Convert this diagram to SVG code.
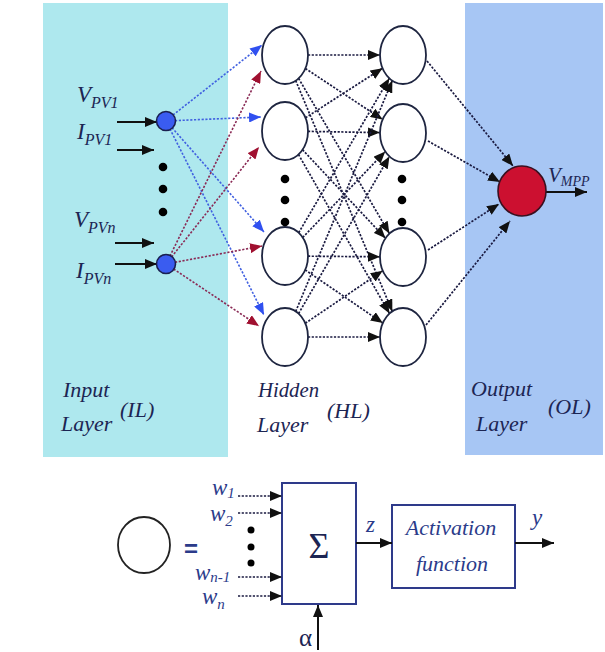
<svg xmlns="http://www.w3.org/2000/svg" width="605" height="652" viewBox="0 0 605 652">
<style>
.lbl{font-family:"Liberation Serif","Times New Roman",serif;font-style:italic;fill:#1c2553}
.wl{font-family:"Liberation Serif","Times New Roman",serif;font-style:italic;fill:#2b3b8a}
.hn{fill:#fff;stroke:#1e2540;stroke-width:1.8}
.dk{stroke:#1a1a40;stroke-width:1.7;stroke-dasharray:2.2 1.5;fill:none}
.bl{stroke:#4060e0;stroke-width:1.6;stroke-dasharray:2.2 1.6;fill:none}
.rd{stroke:#8a2a55;stroke-width:1.6;stroke-dasharray:2.2 1.6;fill:none}
.sol{stroke:#111;stroke-width:2;fill:none}
.box{fill:#fff;stroke:#2e3a8a;stroke-width:2}
.dot{fill:#000}
</style>
<defs>
<marker id="ak" markerUnits="userSpaceOnUse" markerWidth="12" markerHeight="10" refX="12" refY="5" orient="auto"><path d="M0,0 L12,5 L0,10 z" fill="#111"/></marker>
<marker id="ab" markerUnits="userSpaceOnUse" markerWidth="12" markerHeight="10" refX="12" refY="5" orient="auto"><path d="M0,0 L12,5 L0,10 z" fill="#3050f0"/></marker>
<marker id="ar" markerUnits="userSpaceOnUse" markerWidth="12" markerHeight="10" refX="12" refY="5" orient="auto"><path d="M0,0 L12,5 L0,10 z" fill="#a01030"/></marker>
</defs>
<rect width="605" height="652" fill="#fff"/>
<rect id="il-panel" x="43" y="3" width="185" height="454" fill="#aee8ee"/>
<rect id="ol-panel" x="465" y="3" width="138" height="452" fill="#a7c6f4"/>

<g id="connectors">
<line class="sol" x1="117" y1="122" x2="157" y2="122" marker-end="url(#ak)"/>
<line class="sol" x1="117" y1="150" x2="154" y2="150" marker-end="url(#ak)"/>
<line class="sol" x1="115" y1="243" x2="154" y2="243" marker-end="url(#ak)"/>
<line class="sol" x1="115" y1="264" x2="157" y2="264" marker-end="url(#ak)"/>
<line class="bl" x1="173" y1="115" x2="262" y2="45" marker-end="url(#ab)"/>
<line class="bl" x1="175" y1="120.6" x2="261" y2="117" marker-end="url(#ab)"/>
<line class="bl" x1="172" y1="127.7" x2="264" y2="232" marker-end="url(#ab)"/>
<line class="bl" x1="170" y1="129" x2="264" y2="315" marker-end="url(#ab)"/>
<line class="rd" x1="170" y1="256" x2="261" y2="71" marker-end="url(#ar)"/>
<line class="rd" x1="171.6" y1="257" x2="259" y2="147" marker-end="url(#ar)"/>
<line class="rd" x1="175" y1="262.3" x2="262" y2="246" marker-end="url(#ar)"/>
<line class="rd" x1="173.6" y1="269" x2="259" y2="326" marker-end="url(#ar)"/>
<line class="dk" x1="308" y1="55" x2="380" y2="55" marker-end="url(#ak)"/>
<line class="dk" x1="305.4" y1="68.5" x2="382.6" y2="119.5" marker-end="url(#ak)"/>
<line class="dk" x1="298.6" y1="78.4" x2="389.4" y2="233.6" marker-end="url(#ak)"/>
<line class="dk" x1="295.7" y1="80.6" x2="392.3" y2="311.4" marker-end="url(#ak)"/>
<line class="dk" x1="305.5" y1="117.8" x2="382.5" y2="68.2" marker-end="url(#ak)"/>
<line class="dk" x1="308" y1="131.4" x2="380" y2="132.6" marker-end="url(#ak)"/>
<line class="dk" x1="302.5" y1="149.7" x2="385.5" y2="238.3" marker-end="url(#ak)"/>
<line class="dk" x1="298.5" y1="154.5" x2="389.5" y2="313.5" marker-end="url(#ak)"/>
<line class="dk" x1="298.7" y1="232.7" x2="389.3" y2="78.3" marker-end="url(#ak)"/>
<line class="dk" x1="302.7" y1="237.5" x2="385.3" y2="151.5" marker-end="url(#ak)"/>
<line class="dk" x1="308" y1="256.2" x2="380" y2="256.8" marker-end="url(#ak)"/>
<line class="dk" x1="305.2" y1="269.9" x2="382.8" y2="323.1" marker-end="url(#ak)"/>
<line class="dk" x1="295.7" y1="311.4" x2="392.3" y2="80.6" marker-end="url(#ak)"/>
<line class="dk" x1="298.6" y1="313.6" x2="389.4" y2="156.4" marker-end="url(#ak)"/>
<line class="dk" x1="305.3" y1="323.3" x2="382.7" y2="270.7" marker-end="url(#ak)"/>
<line class="dk" x1="308" y1="337" x2="380" y2="337" marker-end="url(#ak)"/>
<line class="dk" x1="427" y1="61" x2="513" y2="166" marker-end="url(#ak)"/>
<line class="dk" x1="428" y1="141" x2="500" y2="182" marker-end="url(#ak)"/>
<line class="dk" x1="428" y1="250" x2="499" y2="204" marker-end="url(#ak)"/>
<line class="dk" x1="426" y1="325" x2="510" y2="221" marker-end="url(#ak)"/>
<line class="sol" x1="546" y1="192" x2="587" y2="192" marker-end="url(#ak)"/>
</g>

<g id="input-nodes">
<circle id="in1" cx="166" cy="121" r="9.5" fill="#3a5cf0" stroke="#1a2050" stroke-width="1.6"/>
<circle id="in2" cx="166" cy="264" r="9.5" fill="#3a5cf0" stroke="#1a2050" stroke-width="1.6"/>
<circle class="dot" cx="163" cy="167" r="4.3"/>
<circle class="dot" cx="163" cy="189" r="4.3"/>
<circle class="dot" cx="163" cy="212" r="4.3"/>
</g>
<g id="hidden1">
<ellipse class="hn" cx="285" cy="55" rx="23" ry="29"/>
<ellipse class="hn" cx="285" cy="131" rx="23" ry="29"/>
<ellipse class="hn" cx="285" cy="256" rx="23" ry="29"/>
<ellipse class="hn" cx="285" cy="337" rx="23" ry="29"/>
<circle class="dot" cx="285" cy="179" r="4.3"/>
<circle class="dot" cx="285" cy="200" r="4.3"/>
<circle class="dot" cx="285" cy="222" r="4.3"/>
</g>
<g id="hidden2">
<ellipse class="hn" cx="403" cy="55" rx="23" ry="29"/>
<ellipse class="hn" cx="403" cy="133" rx="23" ry="29"/>
<ellipse class="hn" cx="403" cy="257" rx="23" ry="29"/>
<ellipse class="hn" cx="403" cy="337" rx="23" ry="29"/>
<circle class="dot" cx="402" cy="179" r="4.3"/>
<circle class="dot" cx="402" cy="200" r="4.3"/>
<circle class="dot" cx="402" cy="222" r="4.3"/>
</g>
<g id="output-node">
<ellipse cx="522" cy="191" rx="24" ry="25" fill="#cc1030" stroke="#3a1020" stroke-width="1.6"/>
</g>

<g id="input-labels">
<text class="lbl" x="77" y="102" font-size="23">V<tspan font-size="16" dy="6">PV1</tspan></text>
<text class="lbl" x="77" y="139" font-size="23">I<tspan font-size="16" dy="6">PV1</tspan></text>
<text class="lbl" x="74" y="227" font-size="23">V<tspan font-size="16" dy="6">PVn</tspan></text>
<text class="lbl" x="76" y="278" font-size="23">I<tspan font-size="16" dy="6">PVn</tspan></text>
<text class="lbl" x="548" y="182" font-size="21">V<tspan font-size="14" dy="4">MPP</tspan></text>
</g>
<g id="layer-labels">
<text class="lbl" x="63" y="397" font-size="22">Input</text>
<text class="lbl" x="61" y="431" font-size="22">Layer</text>
<text class="lbl" x="120" y="417" font-size="22">(IL)</text>
<text class="lbl" x="258" y="397" font-size="22" textLength="61" lengthAdjust="spacingAndGlyphs">Hidden</text>
<text class="lbl" x="257" y="432" font-size="22">Layer</text>
<text class="lbl" x="327" y="418" font-size="22">(HL)</text>
<text class="lbl" x="471" y="396" font-size="22">Output</text>
<text class="lbl" x="476" y="431" font-size="22">Layer</text>
<text class="lbl" x="548" y="414" font-size="22">(OL)</text>
</g>

<g id="neuron-detail">
<ellipse cx="144" cy="545" rx="26" ry="28" fill="#fff" stroke="#222" stroke-width="1.8"/>
<text x="184" y="557" font-family="Liberation Sans, Arial, sans-serif" font-size="24" font-weight="bold" fill="#2b3b8a">=</text>
<g id="sum-box">
<rect class="box" x="282" y="483" width="74" height="121"/>
<text x="319" y="558" text-anchor="middle" font-family="Liberation Serif, serif" font-size="36" fill="#1c2553">Σ</text>
</g>
<g id="act-box">
<rect class="box" x="392" y="505" width="123" height="83"/>
<text class="wl" x="451" y="535" text-anchor="middle" font-size="22">Activation</text>
<text class="wl" x="452" y="571" text-anchor="middle" font-size="22">function</text>
</g>
<g id="w-inputs">
<line class="dk" x1="238" y1="496" x2="282" y2="496" marker-end="url(#ak)"/>
<line class="dk" x1="238" y1="513" x2="282" y2="513" marker-end="url(#ak)"/>
<line class="dk" x1="238" y1="577" x2="282" y2="577" marker-end="url(#ak)"/>
<line class="dk" x1="238" y1="596" x2="282" y2="596" marker-end="url(#ak)"/>
<circle class="dot" cx="251" cy="530" r="3.5"/>
<circle class="dot" cx="251" cy="547" r="3.5"/>
<circle class="dot" cx="251" cy="563" r="3.5"/>
<line class="sol" x1="318" y1="650" x2="318" y2="605" marker-end="url(#ak)"/>
<line class="sol" x1="356" y1="543" x2="392" y2="543" marker-end="url(#ak)"/>
<line class="sol" x1="515" y1="543" x2="554" y2="543" marker-end="url(#ak)"/>
</g>
<text class="wl" x="212" y="495" font-size="23">w<tspan font-size="15" dy="3">1</tspan></text>
<text class="wl" x="210" y="521" font-size="23">w<tspan font-size="15" dy="5">2</tspan></text>
<text class="wl" x="195" y="580" font-size="23">w<tspan font-size="15" dy="2">n-1</tspan></text>
<text class="wl" x="202" y="604" font-size="23">w<tspan font-size="15" dy="5">n</tspan></text>
<text x="299" y="646" font-family="Liberation Serif, serif" font-size="25" fill="#1c2553">α</text>
<text class="wl" x="366" y="532" font-size="23">z</text>
<text class="wl" x="532" y="525" font-size="23">y</text>
</g>
</svg>
